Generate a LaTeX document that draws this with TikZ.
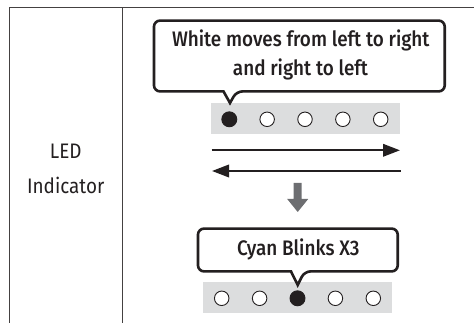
\documentclass[tikz,border=0pt]{standalone}
\usepackage{fontspec}
\setmainfont{Fira Sans}[FakeStretch=0.9, BoldFont={* Medium}]
\usetikzlibrary{arrows.meta}
\begin{document}
\begin{tikzpicture}[x=1pt,y=-1pt]
\definecolor{ink}{HTML}{231F20}
\definecolor{stripgray}{HTML}{DCDDDE}
\definecolor{downgray}{HTML}{6D6E71}
\tikzset{
  gridline/.style={draw=ink!85, line width=0.8pt},
  callout/.style={draw=ink, line width=2.6pt, fill=white, line join=miter},
  stripbox/.style={fill=stripgray, draw=none, inner sep=0pt, minimum width=189pt, minimum height=31.3pt},
  ledoff/.style={circle, draw=ink, line width=0.9pt, fill=white, minimum size=14.5pt, inner sep=0pt},
  ledon/.style={circle, draw=ink, line width=0.9pt, fill=ink, minimum size=15pt, inner sep=0pt},
  flow/.style={draw=ink, line width=2pt, -{Triangle[length=17pt,width=12.5pt]}},
  rowlabel/.style={font=\fontsize{21}{25}\selectfont, text=ink, anchor=base, inner sep=0pt},
  caption/.style={font=\bfseries\fontsize{21}{25}\selectfont, text=ink, anchor=base, inner sep=0pt},
}
\useasboundingbox (0,0) rectangle (474,323);
% table lines
\coordinate (tl) at (9,7.3);
\coordinate (tr) at (474,7.3);
\coordinate (bl) at (9,323);
\coordinate (dt) at (122.7,7.3);
\coordinate (db) at (122.7,323);
\draw[gridline] (bl) -- (tl) -- (tr);
\draw[gridline] (dt) -- (db);
% row label
\node[rowlabel] (led) at (65.7,159) {LED};
\node[rowlabel] (ind) at (65.7,193.3) {Indicator};
% strips
\node[stripbox] (s1) at (305.2,118.7) {};
\node[stripbox] (s2) at (297.8,297.7) {};
\foreach \i in {0,...,4}{
  \ifnum\i=0
    \node[ledon] (a\i) at (229.3+\i*37.85,119.3) {};
  \else
    \node[ledoff] (a\i) at (229.3+\i*37.85,119.3) {};
  \fi
  \ifnum\i=2
    \node[ledon] (b\i) at (221.7+\i*37.9,298.3) {};
  \else
    \node[ledoff] (b\i) at (221.7+\i*37.9,298.3) {};
  \fi
}
% callout 1
\draw[callout] (300,20.6) [rounded corners=6pt] -- (444.7,20.6) -- (444.7,91.4) -- (236.5,91.4) [sharp corners] -- (230,103) -- (223.5,91.4) [rounded corners=6pt] -- (154,91.4) -- (154,20.6) -- cycle;
\node[caption] (t1) at (300.8,46.7) {White moves from left to right};
\node[caption] (t2) at (300.5,76) {and right to left};
% arrows
\coordinate (r1) at (211.7,150.3);
\coordinate (r2) at (400,150.3);
\coordinate (l1) at (400.7,171);
\coordinate (l2) at (212,171);
\draw[flow] (r1) -- (r2);
\draw[flow] (l1) -- (l2);
% down arrow
\fill[downgray] (293.7,183) -- (301.7,183) -- (301.7,199) -- (308.2,199) -- (297.7,212) -- (287.2,199) -- (293.7,199) -- cycle;
% callout 2
\draw[callout] (298,228.6) [rounded corners=6pt] -- (397.7,228.6) -- (397.7,271.4) -- (304.5,271.4) [sharp corners] -- (297.7,285) -- (291,271.4) [rounded corners=6pt] -- (198,271.4) -- (198,228.6) -- cycle;
\node[caption] (t3) at (298.3,255.7) {Cyan Blinks X3};
\end{tikzpicture}
\end{document}
